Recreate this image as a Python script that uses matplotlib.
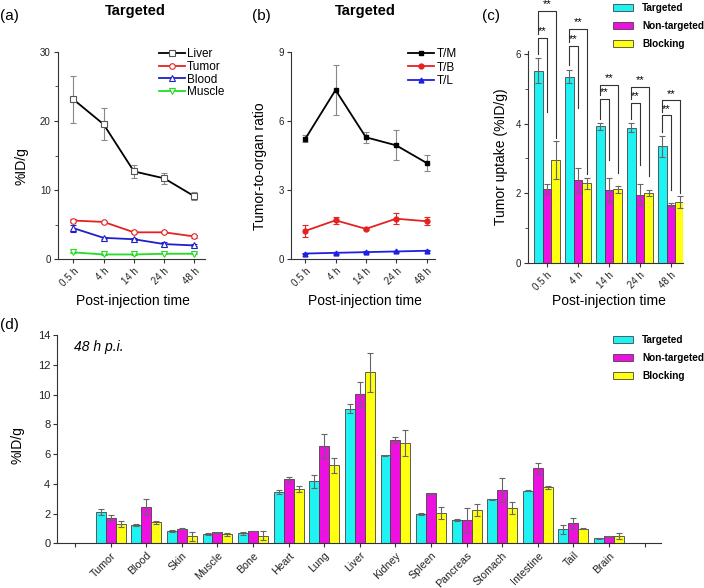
import matplotlib
matplotlib.use("Agg")
import matplotlib.pyplot as plt
import numpy as np
from matplotlib.patches import Patch

plt.rcParams['font.family'] = ['Liberation Sans', 'DejaVu Sans']

# ---------------- data ----------------
times = ["0.5 h", "4 h", "14 h", "24 h", "48 h"]

# panel (a) %ID/g, targeted
liver = [23.1, 19.5, 12.7, 11.7, 9.1]
liver_err = [3.4, 2.3, 0.9, 0.8, 0.6]
tumor = [5.6, 5.4, 3.9, 3.9, 3.3]
tumor_err = [0.2, 0.15, 0.15, 0.15, 0.15]
blood = [4.5, 3.1, 2.9, 2.2, 2.0]
blood_err = [0.5, 0.15, 0.15, 0.3, 0.15]
muscle = [1.0, 0.7, 0.7, 0.8, 0.8]
muscle_err = [0.1, 0.05, 0.05, 0.05, 0.05]

# panel (b) ratios
tm = [5.22, 7.34, 5.29, 4.94, 4.18]
tm_err = [0.15, 1.1, 0.25, 0.65, 0.35]
tb = [1.23, 1.69, 1.32, 1.76, 1.65]
tb_err = [0.25, 0.15, 0.05, 0.25, 0.18]
tl = [0.25, 0.28, 0.31, 0.34, 0.37]
tl_err = [0.03, 0.03, 0.03, 0.03, 0.03]

# panel (c) tumor uptake
c_targeted = [5.52, 5.36, 3.93, 3.89, 3.35]
c_targeted_err = [0.36, 0.2, 0.1, 0.12, 0.3]
c_nontargeted = [2.12, 2.39, 2.09, 1.96, 1.67]
c_nontargeted_err = [0.15, 0.35, 0.35, 0.3, 0.05]
c_blocking = [2.96, 2.28, 2.11, 2.0, 1.75]
c_blocking_err = [0.55, 0.17, 0.1, 0.08, 0.17]
sig_low_y = [6.48, 6.24, 4.72, 4.61, 4.25]
sig_high_y = [7.26, 6.73, 5.12, 5.07, 4.68]
sig_low_end = [4.35, 4.46, 2.96, 2.81, 2.09]
sig_high_end = [3.59, 2.55, 2.58, 2.5, 2.0]

# panel (d) biodistribution 48 h
organs = ["Tumor", "Blood", "Skin", "Muscle", "Bone", "Heart", "Lung", "Liver",
          "Kidney", "Spleen", "Pancreas", "Stomach", "Intestine", "Tail", "Brain"]
d_targeted = [2.13, 1.21, 0.83, 0.63, 0.67, 3.43, 4.17, 9.05, 5.91, 1.97, 1.57, 2.96, 3.54, 0.94, 0.34]
d_targeted_err = [0.2, 0.08, 0.06, 0.04, 0.12, 0.12, 0.42, 0.3, 0.05, 0.1, 0.04, 0.05, 0.05, 0.3, 0.03]
d_nontargeted = [1.70, 2.46, 0.99, 0.74, 0.83, 4.30, 6.52, 10.04, 6.92, 3.36, 1.55, 3.58, 5.04, 1.37, 0.47]
d_nontargeted_err = [0.2, 0.55, 0.02, 0.02, 0.02, 0.15, 0.8, 0.8, 0.2, 0.03, 0.8, 0.8, 0.37, 0.35, 0.02]
d_blocking = [1.30, 1.41, 0.47, 0.60, 0.52, 3.65, 5.24, 11.5, 6.74, 2.04, 2.22, 2.35, 3.76, 0.99, 0.52]
d_blocking_err = [0.22, 0.12, 0.3, 0.08, 0.33, 0.2, 0.5, 1.3, 0.85, 0.38, 0.4, 0.4, 0.1, 0.05, 0.2]

group_labels = ["Targeted", "Non-targeted", "Blocking"]

# ---------------- style ----------------
CYAN = '#1ef2f2'
MAG = '#ee10e0'
YEL = '#ffff10'
EDGE = '#444444'
ERRC = '#666666'

W, H = 704, 588
fig = plt.figure(figsize=(W / 100, H / 100), dpi=100)


def px_axes(l, t, r, b):
    return fig.add_axes([l / W, 1 - b / H, (r - l) / W, (b - t) / H])


def style(ax, fs=7):
    for s in ['top', 'right']:
        ax.spines[s].set_visible(False)
    for s in ['left', 'bottom']:
        ax.spines[s].set_linewidth(0.8)
        ax.spines[s].set_color('#333333')
    ax.tick_params(direction='out', length=3, width=0.8, labelsize=fs, colors='#333333',
                   labelcolor='#222222', pad=2)
    ax.tick_params(which='minor', direction='out', length=2, width=0.6, colors='#333333')


x = np.arange(len(times))

# ---------------- (a) ----------------
axa = px_axes(57.7, 51.7, 205, 259.3)
style(axa)
series_a = [(liver, liver_err, 'black', 's', 'Liver', '#888888'),
            (tumor, tumor_err, '#e52222', 'o', 'Tumor', '#e52222'),
            (blood, blood_err, '#2020c8', '^', 'Blood', '#2020c8'),
            (muscle, muscle_err, '#22dd22', 'v', 'Muscle', '#22dd22')]
for vals, err, col, mk, lab, ec in series_a:
    axa.errorbar(x, vals, yerr=err, fmt='none', ecolor=ec, elinewidth=0.8, capsize=2, capthick=0.8)
    axa.plot(x, vals, color=col, marker=mk, mfc='white', mec=col if col != 'black' else '#555555',
             ms=4, mew=0.8, lw=1.3, label=lab)
axa.set_xlim(-0.52, 4.35)
axa.set_ylim(0, 30)
axa.set_yticks([0, 10, 20, 30])
axa.set_yticks([5, 15, 25], minor=True)
axa.set_xticks(x)
axa.set_xticklabels(times, rotation=45, ha='right', rotation_mode='anchor')
axa.set_ylabel('%ID/g', fontsize=10)
axa.yaxis.set_label_coords(-0.2, 0.45)
axa.set_xlabel('Post-injection time', fontsize=10)
axa.xaxis.set_label_coords(0.51, -0.165)
axa.legend(loc='upper right', bbox_to_anchor=(1.18, 1.05), frameon=False, fontsize=8.5,
           handlelength=2.2, handletextpad=0.2, labelspacing=0.05, borderaxespad=0.2)
fig.text(135 / W, 1 - 11 / H, 'Targeted', ha='center', va='center', fontsize=10.5, fontweight='bold')
fig.text(0 / W, 1 - 16 / H, '(a)', ha='left', va='center', fontsize=11)

# ---------------- (b) ----------------
axb = px_axes(290.7, 51.7, 435, 259.3)
style(axb)
series_b = [(tm, tm_err, 'black', 's', 'T/M', '#888888'),
            (tb, tb_err, '#e52222', 'o', 'T/B', '#e52222'),
            (tl, tl_err, '#2020e0', '^', 'T/L', '#2020e0')]
for vals, err, col, mk, lab, ec in series_b:
    axb.errorbar(x, vals, yerr=err, fmt='none', ecolor=ec, elinewidth=0.8, capsize=2, capthick=0.8)
    axb.plot(x, vals, color=col, marker=mk, ms=3.5, lw=1.3, label=lab)
axb.set_xlim(-0.48, 4.28)
axb.set_ylim(0, 9)
axb.set_yticks([0, 3, 6, 9])
axb.set_xticks(x)
axb.set_xticklabels(times, rotation=45, ha='right', rotation_mode='anchor')
axb.set_ylabel('Tumor-to-organ ratio', fontsize=10)
axb.yaxis.set_label_coords(-0.165, 0.45)
axb.set_xlabel('Post-injection time', fontsize=10)
axb.xaxis.set_label_coords(0.515, -0.165)
axb.legend(loc='upper right', bbox_to_anchor=(1.2, 1.05), frameon=False, fontsize=8.5,
           handlelength=2.2, handletextpad=0.2, labelspacing=0.1, borderaxespad=0.2)
fig.text(365 / W, 1 - 11 / H, 'Targeted', ha='center', va='center', fontsize=10.5, fontweight='bold')
fig.text(252 / W, 1 - 16 / H, '(b)', ha='left', va='center', fontsize=11)

# ---------------- (c) ----------------
axc = px_axes(528, 50.8, 683, 262.7)
style(axc)
bw = 0.28
cols = [CYAN, MAG, YEL]
c_vals = [c_targeted, c_nontargeted, c_blocking]
c_errs = [c_targeted_err, c_nontargeted_err, c_blocking_err]
handles = []
for i, (vals, err, col) in enumerate(zip(c_vals, c_errs, cols)):
    pos = x + (i - 1) * bw
    axc.bar(pos, vals, width=bw, color=col, edgecolor=EDGE, linewidth=0.6)
    axc.errorbar(pos, vals, yerr=err, fmt='none', ecolor=ERRC, elinewidth=0.8, capsize=2, capthick=0.8)
    handles.append(Patch(facecolor=col, edgecolor=EDGE, linewidth=0.6))
for g in range(len(times)):
    xl = x[g] - bw
    xm = x[g]
    xr = x[g] + bw
    ytop_t = c_targeted[g] + c_targeted_err[g]
    # lower bracket (targeted vs non-targeted)
    axc.plot([xl, xl, xm, xm], [ytop_t + 0.12, sig_low_y[g], sig_low_y[g], sig_low_end[g]],
             color='#333333', lw=0.8, clip_on=False)
    axc.text((xl + xm) / 2, sig_low_y[g] + 0.04, '**', ha='center', va='bottom', fontsize=8, clip_on=False)
    # upper bracket (targeted vs blocking)
    axc.plot([xl, xl, xr, xr], [sig_low_y[g] + 0.1, sig_high_y[g], sig_high_y[g], sig_high_end[g]],
             color='#333333', lw=0.8, clip_on=False)
    axc.text((xl + xr) / 2, sig_high_y[g] + 0.04, '**', ha='center', va='bottom', fontsize=8, clip_on=False)
axc.set_xlim(-0.61, 4.39)
axc.set_ylim(0, 6.1)
axc.set_yticks([0, 2, 4, 6])
axc.set_yticks([1, 3, 5], minor=True)
axc.set_xticks(x)
axc.set_xticklabels(times, rotation=45, ha='right', rotation_mode='anchor')
axc.set_ylabel('Tumor uptake (%ID/g)', fontsize=10)
axc.yaxis.set_label_coords(-0.13, 0.5)
axc.set_xlabel('Post-injection time', fontsize=10)
axc.xaxis.set_label_coords(0.52, -0.15)
leg_kw = dict(frameon=False, prop={'weight': 'bold', 'size': 7.2}, handlelength=1.95, handleheight=0.65,
              handletextpad=0.95, labelspacing=0.8)
fig.legend(handles, group_labels, loc='upper left', bbox_to_anchor=(604 / W, 1 - (-6) / H), **leg_kw)
fig.text(482 / W, 1 - 16 / H, '(c)', ha='left', va='center', fontsize=11)

# ---------------- (d) ----------------
axd = px_axes(57.3, 335, 661, 543.3)
style(axd, fs=8)
xd = np.arange(1, len(organs) + 1)
d_vals = [d_targeted, d_nontargeted, d_blocking]
d_errs = [d_targeted_err, d_nontargeted_err, d_blocking_err]
for i, (vals, err, col) in enumerate(zip(d_vals, d_errs, cols)):
    pos = xd + (i - 1) * bw
    axd.bar(pos, vals, width=bw, color=col, edgecolor=EDGE, linewidth=0.6)
    axd.errorbar(pos, vals, yerr=err, fmt='none', ecolor=ERRC, elinewidth=0.8, capsize=2, capthick=0.8)
axd.set_xlim(-0.5, len(organs) + 1.46)
axd.set_ylim(0, 14)
axd.set_yticks(np.arange(0, 15, 2))
axd.set_xticks(np.arange(0, len(organs) + 2))
axd.set_xticklabels([''] + organs + [''], rotation=45, ha='right', rotation_mode='anchor', fontsize=7.7)
axd.set_ylabel('%ID/g', fontsize=10)
axd.yaxis.set_label_coords(-0.054, 0.47)
axd.text(0.027, 0.94, '48 h p.i.', transform=axd.transAxes, fontsize=10, style='italic', ha='left', va='center')
fig.legend(handles, group_labels, loc='upper left', bbox_to_anchor=(604 / W, 1 - 326 / H), **leg_kw)
fig.text(0 / W, 1 - 325 / H, '(d)', ha='left', va='center', fontsize=11)

fig.savefig('out.png', dpi=100)
